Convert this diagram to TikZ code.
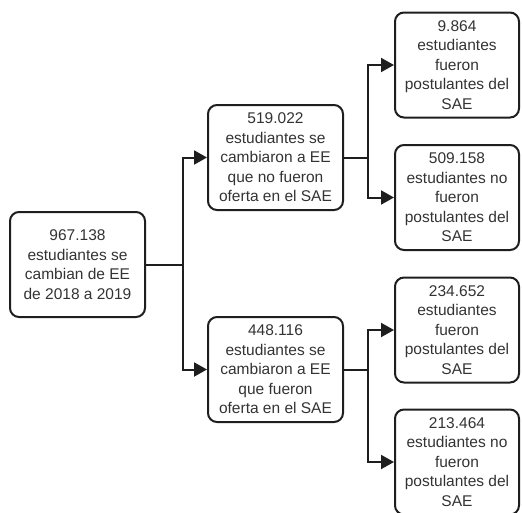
\documentclass[tikz,border=0pt]{standalone}
\usepackage{fontspec}
\setmainfont{Liberation Sans}
\usetikzlibrary{arrows.meta}
\definecolor{linec}{HTML}{1E1E1E}
\definecolor{textc}{HTML}{333333}
\begin{document}
\begin{tikzpicture}[x=1pt,y=-1pt,
  box/.style={draw=linec,line width=2pt,rounded corners=9pt,align=center,
    text=textc,font=\fontsize{15.5}{19.5}\selectfont,inner sep=0pt,
    minimum height=105pt},
  wide/.style={box,minimum width=135pt},
  narrow/.style={box,minimum width=124pt},
  conn/.style={draw=linec,line width=2pt,-{Triangle[length=13pt,width=14pt]}},
  plain/.style={draw=linec,line width=2pt}]
\useasboundingbox (0,0) rectangle (522,512);
\clip (0,0) rectangle (522,512);
\node[wide] (root) at (77.5,264.5) {967.138\\estudiantes se\\cambian de EE\\de 2018 a 2019};
\node[wide] (m1) at (275.5,157.5) {519.022\\estudiantes se\\cambiaron a EE\\que no fueron\\oferta en el SAE};
\node[wide] (m2) at (275.5,369.5) {448.116\\estudiantes se\\cambiaron a EE\\que fueron\\oferta en el SAE};
\node[narrow] (r1) at (457,65) {9.864\\estudiantes\\fueron\\postulantes del\\SAE};
\node[narrow] (r2) at (457,197.5) {509.158\\estudiantes no\\fueron\\postulantes del\\SAE};
\node[narrow] (r3) at (457,330) {234.652\\estudiantes\\fueron\\postulantes del\\SAE};
\node[narrow] (r4) at (457,462) {213.464\\estudiantes no\\fueron\\postulantes del\\SAE};
\coordinate (t0) at (183,264.5);
\coordinate (t1) at (368,157.5);
\coordinate (t2) at (368,369.5);
\draw[plain] (root.east) -- (t0);
\draw[conn] (t0) |- (m1.west);
\draw[conn] (t0) |- (m2.west);
\draw[plain] (m1.east) -- (t1);
\draw[conn] (t1) |- (r1.west);
\draw[conn] (t1) |- (r2.west);
\draw[plain] (m2.east) -- (t2);
\draw[conn] (t2) |- (r3.west);
\draw[conn] (t2) |- (r4.west);
\end{tikzpicture}
\end{document}
